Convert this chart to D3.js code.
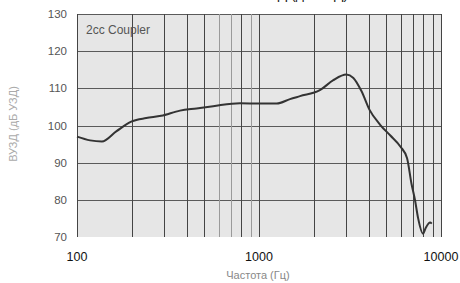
<!DOCTYPE html>
<html>
<head>
<meta charset="utf-8">
<script src="https://cdn.jsdelivr.net/npm/d3@7"></script>
<style>
  body { margin: 0; background: #fff; }
  svg { font-family: "Liberation Sans", Arial, sans-serif; display: block; }
</style>
</head>
<body>
<div id="chart"></div>
<script>
// curve
var freqs  = [100, 118, 137, 165, 200, 240, 290, 368, 454, 560, 786, 1010, 1250, 1480, 1680, 2160, 2560, 3020, 3300, 3660, 4050, 4630, 5270, 5990, 6510, 6880, 7200, 7490, 7960, 8250, 8710, 8900];
var levels = [97.0, 96.0, 95.7, 98.5, 101.1, 102.0, 102.6, 104.0, 104.6, 105.2, 106.0, 105.9, 105.9, 107.1, 107.9, 109.5, 112.2, 113.7, 112.8, 109.2, 104.2, 100.2, 97.3, 94.3, 91.2, 84.4, 79.9, 75.0, 70.9, 72.5, 73.9, 73.6];

var yTicks = [70, 80, 90, 100, 110, 120, 130];
var xLabels = [100, 1000, 10000];
var xGrid = [200, 300, 400, 500, 600, 700, 800, 900, 2000, 3000, 4000, 5000, 6000, 7000, 8000, 9000, 10000];
var lightGrid = [600, 700, 900];

var w = 460,
    h = 283;
var pLeft = 77, pRight = 441, pTop = 14, pBottom = 237;

var svg = d3.select("#chart")
  .append("svg")
  .attr("width", w)
  .attr("height", h);

var x = d3.scaleLog().domain([100, 10000]).range([pLeft, pRight]);
var y = d3.scaleLinear().domain([70, 130]).range([pBottom, pTop]);

// cut-off title at the top edge
svg.append("text")
  .attr("x", 300)
  .attr("y", -1)
  .attr("text-anchor", "middle")
  .attr("font-size", "14px")
  .attr("fill", "#222")
  .text("ВУЗД (дБ УЗД)");

// plot background
svg.append("rect")
  .attr("x", pLeft)
  .attr("y", pTop)
  .attr("width", pRight - pLeft)
  .attr("height", pBottom - pTop)
  .attr("fill", "#e6e6e6");

// horizontal grid
svg.selectAll(".hgrid")
  .data(yTicks.filter(function(d) { return d > 70; }))
  .enter()
  .append("line")
  .attr("x1", pLeft)
  .attr("x2", pRight)
  .attr("y1", function(d) { return Math.round(y(d)) + 0.5; })
  .attr("y2", function(d) { return Math.round(y(d)) + 0.5; })
  .attr("stroke", "#5a5a5a")
  .attr("stroke-width", 1);

// vertical grid
svg.selectAll(".vgrid")
  .data([100, 1000].concat(xGrid))
  .enter()
  .append("line")
  .attr("x1", function(d) { return Math.round(x(d)) + 0.5; })
  .attr("x2", function(d) { return Math.round(x(d)) + 0.5; })
  .attr("y1", pTop)
  .attr("y2", pBottom)
  .attr("stroke", function(d) { return lightGrid.indexOf(d) >= 0 ? "#9a9a9a" : "#444"; })
  .attr("stroke-width", 1);

// y tick labels
svg.selectAll(".ylab")
  .data(yTicks)
  .enter()
  .append("text")
  .attr("x", 67)
  .attr("y", function(d) { return y(d) + 4; })
  .attr("text-anchor", "end")
  .attr("font-size", "11.5px")
  .attr("fill", "#555")
  .text(function(d) { return d; });

// x tick labels
svg.selectAll(".xlab")
  .data(xLabels)
  .enter()
  .append("text")
  .attr("x", function(d) { return x(d); })
  .attr("y", 261)
  .attr("text-anchor", "middle")
  .attr("font-size", "12.5px")
  .attr("fill", "#111")
  .text(function(d) { return d; });

// axis titles
svg.append("text")
  .attr("x", 258)
  .attr("y", 279)
  .attr("text-anchor", "middle")
  .attr("font-size", "11px")
  .attr("fill", "#888")
  .text("Частота (Гц)");

svg.append("text")
  .attr("transform", "translate(17,124) rotate(-90)")
  .attr("text-anchor", "middle")
  .attr("font-size", "11px")
  .attr("fill", "#aaa")
  .text("ВУЗД (дБ УЗД)");

// legend text inside the plot
svg.append("text")
  .attr("x", 86)
  .attr("y", 34)
  .attr("font-size", "12px")
  .attr("fill", "#555")
  .text("2cc Coupler");

// curve
var line = d3.line()
  .x(function(d, i) { return x(freqs[i]); })
  .y(function(d) { return y(d); })
  .curve(d3.curveMonotoneX);

svg.append("path")
  .datum(levels)
  .attr("d", line)
  .attr("fill", "none")
  .attr("stroke", "#333")
  .attr("stroke-width", 2)
  .attr("stroke-linejoin", "round");
</script>
</body>
</html>
